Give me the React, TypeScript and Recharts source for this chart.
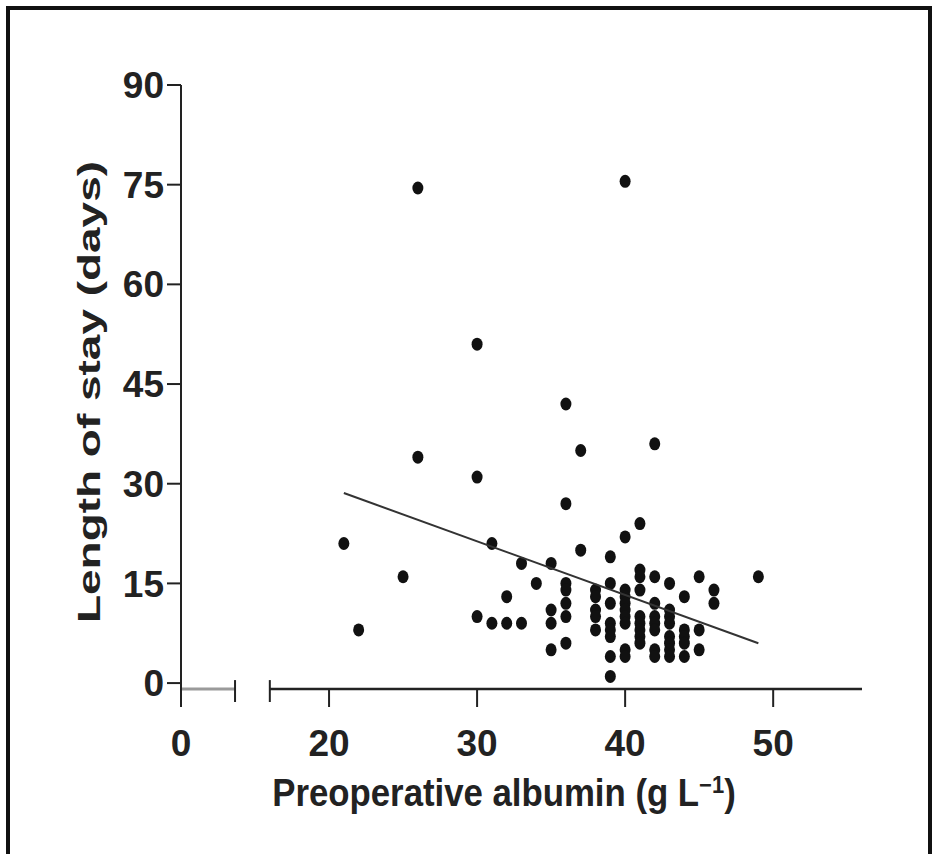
import { ScatterChart, Scatter, XAxis, YAxis, ReferenceLine } from 'recharts'

// albumin (g/L) columns and the lengths of stay (days) read at each column
const albuminLevels = [21, 22, 25, 26, 30, 31, 32, 33, 34, 35, 36, 37, 38, 39, 40, 41, 42, 43, 44, 45, 46, 49]
const staysAtLevel = [
  [21],
  [8],
  [16],
  [74.5, 34],
  [51, 31, 10],
  [21, 9],
  [13, 9],
  [18, 9],
  [15],
  [18, 11, 9, 5],
  [42, 27, 15, 14, 12, 10, 6],
  [35, 20],
  [14, 13, 11, 10, 8],
  [19, 15, 12, 9, 8, 7, 4, 1],
  [75.5, 22, 14, 13, 12, 11, 10, 9, 5, 4],
  [24, 17, 16, 14, 10, 9, 8, 7, 6],
  [36, 16, 12, 10, 9, 8, 5, 4],
  [15, 11, 10, 9, 7, 6, 5, 4],
  [13, 8, 7, 6, 4],
  [16, 8, 5],
  [14, 12],
  [16],
]

// regression line end points
const fitAlbumin = [21, 49]
const fitStay = [28.6, 6.0]

// broken x axis: the "0" tick sits at 10 on the scale
const xTicks = [10, 20, 30, 40, 50]
const xTickLabels = ['0', '20', '30', '40', '50']
const xBreak = [13.65, 16]
const xEnd = 56
const yTicks = [0, 15, 30, 45, 60, 75, 90]

const FONT = '"Liberation Sans", Arial, Helvetica, sans-serif'
const AXIS_Y = -0.9
const Y_MIN = -3.6

const points = albuminLevels.flatMap((a, i) => staysAtLevel[i].map((s) => ({ albumin: a, stay: s })))
const fit = fitAlbumin.map((a, i) => ({ albumin: a, stay: fitStay[i] }))

const Dot = (props: any) => <ellipse cx={props.cx} cy={props.cy} rx={5.5} ry={6.5} fill="#111" />

const XTick = ({ x, y, payload }: any) => (
  <text x={x} y={y + 49} textAnchor="middle" fontFamily={FONT} fontWeight="bold" fontSize={37} fill="#222">
    {xTickLabels[xTicks.indexOf(payload.value)]}
  </text>
)

export default function App() {
  return (
    <div style={{ position: 'fixed', left: 0, top: 0, width: 937, height: 854, background: '#fff', overflow: 'hidden' }}>
      <div
        style={{
          position: 'absolute',
          left: 6,
          top: 6,
          width: 918,
          height: 900,
          border: '4px solid #111',
        }}
      />
      <div style={{ position: 'absolute', left: 0, top: 0 }}>
        <ScatterChart width={937} height={854} margin={{ top: 85, right: 75, left: 0, bottom: 87 }}>
          <XAxis
            type="number"
            dataKey="albumin"
            domain={[10, xEnd]}
            ticks={xTicks}
            tick={<XTick />}
            axisLine={false}
            tickLine={false}
            tickSize={0}
            tickMargin={0}
            height={60}
            allowDataOverflow
          />
          <YAxis
            type="number"
            dataKey="stay"
            domain={[Y_MIN, 90]}
            ticks={yTicks}
            width={181}
            tickSize={14}
            tickMargin={3}
            axisLine={{ stroke: '#222', strokeWidth: 2 }}
            tickLine={{ stroke: '#222', strokeWidth: 2 }}
            tick={{ fontFamily: FONT, fontWeight: 'bold', fontSize: 37, fill: '#222' }}
            allowDataOverflow
          />
          <ReferenceLine segment={[{ x: 10, y: AXIS_Y }, { x: xBreak[0], y: AXIS_Y }]} stroke="#9a9a9a" strokeWidth={3} />
          <ReferenceLine segment={[{ x: xBreak[0], y: 0.45 }, { x: xBreak[0], y: -2.85 }]} stroke="#222" strokeWidth={2} />
          <ReferenceLine segment={[{ x: xBreak[1], y: 0.45 }, { x: xBreak[1], y: -2.85 }]} stroke="#222" strokeWidth={2} />
          <ReferenceLine segment={[{ x: xBreak[1], y: AXIS_Y }, { x: xEnd, y: AXIS_Y }]} stroke="#222" strokeWidth={2.5} />
          {xTicks.slice(1).map((t) => (
            <ReferenceLine key={t} segment={[{ x: t, y: AXIS_Y }, { x: t, y: Y_MIN }]} stroke="#222" strokeWidth={2} />
          ))}
          <Scatter data={points} shape={Dot} isAnimationActive={false} />
          <Scatter
            data={fit}
            line={{ stroke: '#333', strokeWidth: 2 }}
            shape={() => <g />}
            isAnimationActive={false}
          />
        </ScatterChart>
      </div>
      <svg width={937} height={854} style={{ position: 'absolute', left: 0, top: 0, pointerEvents: 'none' }}>
        <text
          transform="translate(100, 392) rotate(-90)"
          textAnchor="middle"
          fontFamily={FONT}
          fontWeight="bold"
          fontSize={32}
          fill="#222"
          textLength={462}
          lengthAdjust="spacingAndGlyphs"
        >
          Length of stay (days)
        </text>
        <g transform="translate(504, 806) scale(0.915, 1)">
          <text x={0} y={0} textAnchor="middle" fontFamily={FONT} fontWeight="bold" fontSize={38} fill="#222">
            Preoperative albumin (g L<tspan dy={-13} fontSize={24}>−1</tspan><tspan dy={13}>)</tspan>
          </text>
        </g>
      </svg>
    </div>
  )
}
